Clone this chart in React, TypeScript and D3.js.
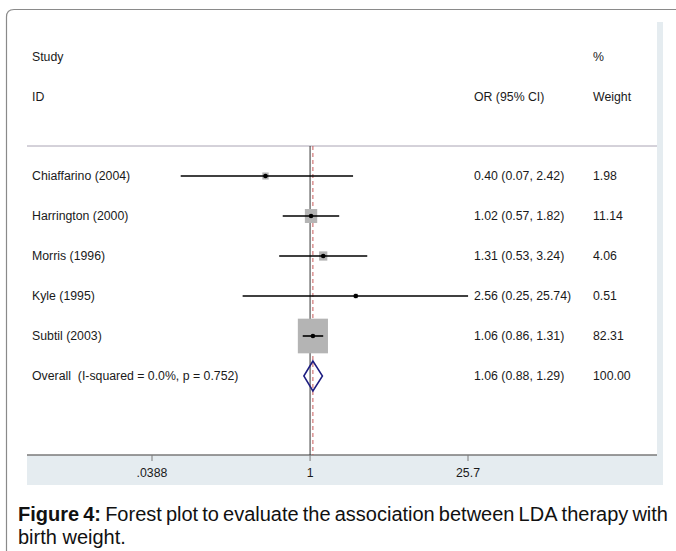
import React, { useRef, useEffect } from "react";
import * as d3 from "d3";

const studies = ["Chiaffarino (2004)", "Harrington (2000)", "Morris (1996)", "Kyle (1995)", "Subtil (2003)"];
const oddsRatios = [0.4, 1.02, 1.31, 2.56, 1.06];
const lowerCI = [0.07, 0.57, 0.53, 0.25, 0.86];
const upperCI = [2.42, 1.82, 3.24, 25.74, 1.31];
const weights = [1.98, 11.14, 4.06, 0.51, 82.31];
const ciLabels = ["0.40 (0.07, 2.42)", "1.02 (0.57, 1.82)", "1.31 (0.53, 3.24)", "2.56 (0.25, 25.74)", "1.06 (0.86, 1.31)"];
const weightLabels = ["1.98", "11.14", "4.06", "0.51", "82.31"];

const overallLabel = "Overall  (I-squared = 0.0%, p = 0.752)";
const overallOR = 1.06;
const overallLower = 0.88;
const overallUpper = 1.29;
const overallCILabel = "1.06 (0.88, 1.29)";
const overallWeightLabel = "100.00";

const tickValues = [0.0388, 1, 25.7];
const tickLabels = [".0388", "1", "25.7"];

const captionLine1 = ["Figure", "4:", "Forest", "plot", "to", "evaluate", "the", "association", "between", "LDA", "therapy", "with"];
const captionLine2 = "birth weight.";

const FONT = "'Liberation Sans', Arial, sans-serif";

const App = () => {
  const svgRef = useRef<SVGSVGElement>(null);

  useEffect(() => {
    const svg = d3.select(svgRef.current);
    svg.selectAll("*").remove();

    const x = d3.scaleLog().domain([0.0388, 25.7]).range([152, 468]);
    const y = d3.scaleLinear().domain([0, 5]).range([176, 376]);

    const axisY = 455;
    const headerLineY = 146;

    // frame
    svg.append("path")
      .attr("d", "M6.5,700 L6.5,17 Q6.5,9.5 14,9.5 L700,9.5")
      .attr("fill", "none")
      .attr("stroke", "#8a8a8a")
      .attr("stroke-width", 1.2);

    // graph region shading (right band + bottom band)
    const shade = "#e5ecf0";
    svg.append("rect").attr("x", 657).attr("y", 22).attr("width", 6).attr("height", 463).attr("fill", shade);
    svg.append("rect").attr("x", 27).attr("y", axisY).attr("width", 636).attr("height", 30).attr("fill", shade);

    const txt = (xx: number, yy: number, s: string, anchor = "start") =>
      svg.append("text")
        .attr("x", xx)
        .attr("y", yy)
        .attr("dy", "0.35em")
        .attr("text-anchor", anchor)
        .style("font-family", FONT)
        .style("font-size", "12.3px")
        .style("white-space", "pre")
        .attr("fill", "#1a1a1a")
        .text(s);

    // header text
    txt(32, 57, "Study");
    txt(32, 97, "ID");
    txt(474, 97, "OR (95% CI)");
    txt(593, 57, "%");
    txt(593, 97, "Weight");

    // header separator
    svg.append("line")
      .attr("x1", 27).attr("x2", 657)
      .attr("y1", headerLineY).attr("y2", headerLineY)
      .attr("stroke", "#aaa4b4").attr("stroke-width", 1);

    // axis line
    svg.append("line")
      .attr("x1", 27).attr("x2", 657)
      .attr("y1", axisY).attr("y2", axisY)
      .attr("stroke", "#7a7a7a").attr("stroke-width", 1.5);

    // ticks
    tickValues.forEach((t, i) => {
      svg.append("line")
        .attr("x1", x(t)).attr("x2", x(t))
        .attr("y1", axisY).attr("y2", axisY + 6)
        .attr("stroke", "#7a7a7a").attr("stroke-width", 1);
      txt(x(t), 473, tickLabels[i], "middle");
    });

    // null line
    svg.append("line")
      .attr("x1", x(1)).attr("x2", x(1))
      .attr("y1", headerLineY).attr("y2", axisY)
      .attr("stroke", "#333").attr("stroke-width", 1);

    // overall effect dashed line
    svg.append("line")
      .attr("x1", x(overallOR)).attr("x2", x(overallOR))
      .attr("y1", headerLineY).attr("y2", axisY)
      .attr("stroke", "#c85a5a").attr("stroke-width", 1)
      .attr("stroke-dasharray", "4,3");

    // study boxes, CIs and labels
    studies.forEach((s, i) => {
      const cy = y(i);
      const w = 3.1 * Math.sqrt(weights[i]) + 2;
      const h = 3.6 * Math.sqrt(weights[i]) + 2;
      svg.append("rect")
        .attr("x", x(oddsRatios[i]) - w / 2)
        .attr("y", cy - h / 2)
        .attr("width", w)
        .attr("height", h)
        .attr("fill", "#b4b4b4");
      svg.append("line")
        .attr("x1", x(lowerCI[i])).attr("x2", x(upperCI[i]))
        .attr("y1", cy).attr("y2", cy)
        .attr("stroke", "#000").attr("stroke-width", 1.6);
      svg.append("circle")
        .attr("cx", x(oddsRatios[i])).attr("cy", cy)
        .attr("r", 2.3).attr("fill", "#000");

      txt(32, cy, s);
      txt(474, cy, ciLabels[i]);
      txt(593, cy, weightLabels[i]);
    });

    // overall diamond
    const oy = y(studies.length);
    const dh = 15;
    svg.append("path")
      .attr("d", `M${x(overallLower)},${oy} L${x(overallOR)},${oy - dh} L${x(overallUpper)},${oy} L${x(overallOR)},${oy + dh} Z`)
      .attr("fill", "none")
      .attr("stroke", "#1c1c80")
      .attr("stroke-width", 1.5);
    txt(32, oy, overallLabel);
    txt(474, oy, overallCILabel);
    txt(593, oy, overallWeightLabel);

    // caption, first line justified
    const cap = svg.append("g").style("font-family", FONT).style("font-size", "20px").attr("fill", "#111");
    const words = captionLine1.map((wd, i) =>
      cap.append("text")
        .attr("y", 521)
        .style("font-weight", i < 2 ? "bold" : "normal")
        .text(wd)
    );
    const widths = words.map((t) => (t.node() as SVGTextElement).getComputedTextLength());
    const left = 18;
    const right = 668;
    const gap = (right - left - d3.sum(widths)) / (words.length - 1);
    let cx = left;
    words.forEach((t, i) => {
      t.attr("x", cx);
      cx += widths[i] + gap;
    });
    cap.append("text").attr("x", left).attr("y", 544).text(captionLine2);
  }, []);

  return (
    <svg
      ref={svgRef}
      width={676}
      height={551}
      style={{ position: "absolute", left: 0, top: 0, background: "#fff" }}
    ></svg>
  );
};

export default App;
